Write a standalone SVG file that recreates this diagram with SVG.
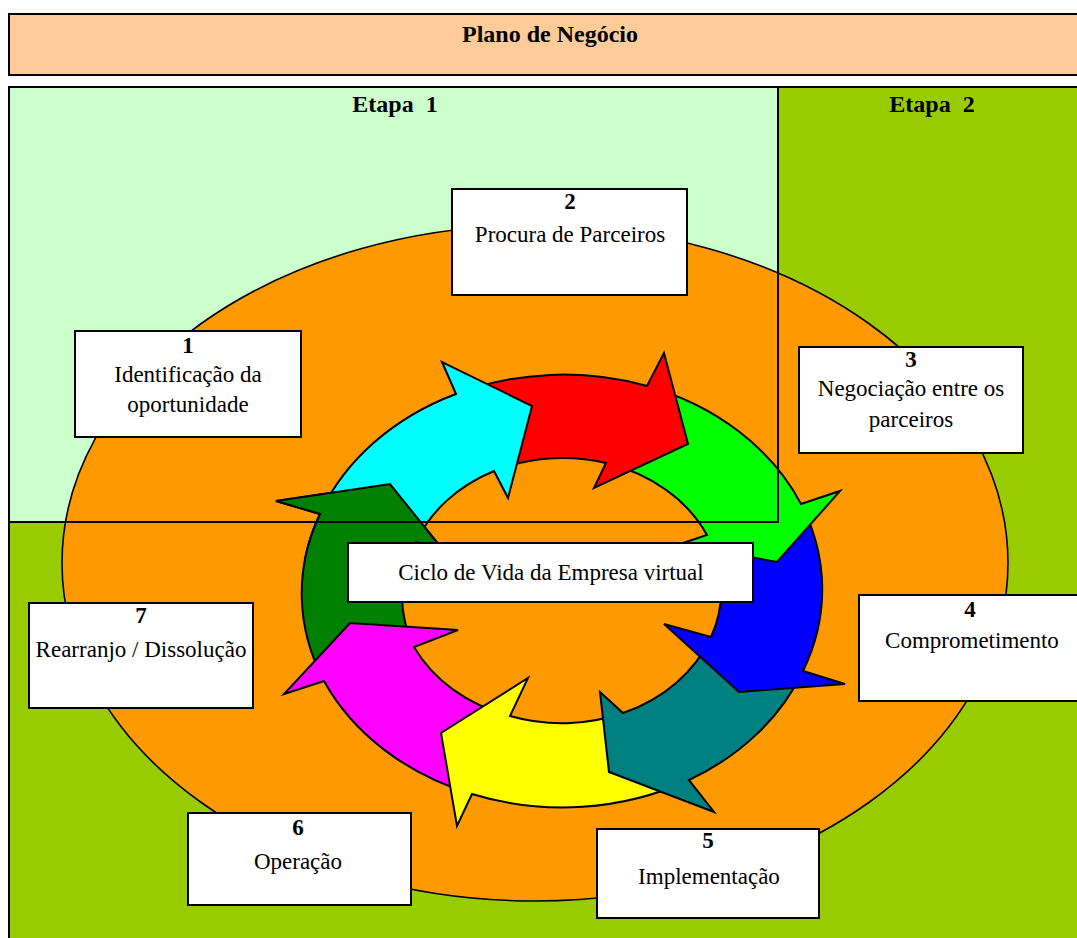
<svg xmlns="http://www.w3.org/2000/svg" xmlns:xlink="http://www.w3.org/1999/xlink" width="1077" height="938" viewBox="0 0 1077 938">
  <style>
    .frame { stroke: #000; stroke-width: 2; }
    .box { fill: #fff; stroke: #000; stroke-width: 2; }
    .arrow { stroke: #000; stroke-width: 2; stroke-linejoin: miter; }
    .t { font-family: "Liberation Serif", "Times New Roman", serif; font-size: 23px; fill: #000; text-anchor: middle; }
    .b { font-family: "Liberation Serif", "Times New Roman", serif; font-size: 23px; font-weight: bold; fill: #000; text-anchor: middle; }
    .h { font-family: "Liberation Serif", "Times New Roman", serif; font-size: 24px; font-weight: bold; fill: #000; text-anchor: middle; white-space: pre; }
  </style>
  <defs>
    <!-- dark green arrow, reused so its head can sit over the cyan tail -->
    <path id="a8" class="arrow" fill="#008000" d="M 324,681 A 260 216 0 0 1 320,514 L 276,501 L 390,484 L 443,550 L 416,542 A 159 133 0 0 0 414,647 Z"/>
    <clipPath id="c8">
      <rect x="255" y="455" width="215" height="105"/>
    </clipPath>
  </defs>

  <rect width="1077" height="938" fill="#fff"/>

  <!-- business plan header -->
  <g id="header">
    <rect class="frame" x="9" y="14" width="1080" height="61" fill="#FFCC99"/>
    <text class="h" x="550" y="42">Plano de Negócio</text>
  </g>

  <!-- stage areas -->
  <g id="stages">
    <rect class="frame" x="9" y="87" width="1080" height="870" fill="#99CC00"/>
    <rect x="9" y="87" width="769" height="435" fill="#CCFFCC"/>
  </g>

  <!-- life-cycle ellipse -->
  <ellipse id="cycle" cx="535" cy="563" rx="473" ry="338" fill="#FF9900" stroke="#000" stroke-width="1.6"/>

  <!-- ring of curved arrows, drawn so each head covers the following tail -->
  <g id="connectors">
    <use xlink:href="#a8"/>
    <path class="arrow" fill="#FF00FF" d="M 472,794 A 260 216 0 0 1 324,681 L 284,694 L 350,623 L 458,630 L 414,647 A 159 133 0 0 0 510,716 Z"/>
    <path class="arrow" fill="#FFFF00" d="M 689,780 A 260 216 0 0 1 472,794 L 457,826 L 441,733 L 528,678 L 510,716 A 159 133 0 0 0 623,713 Z"/>
    <path class="arrow" fill="#008080" d="M 803,671 A 260 216 0 0 1 689,780 L 714,812 L 609,772 L 600,692 L 623,713 A 159 133 0 0 0 711,637 Z"/>
    <path class="arrow" fill="#0000FF" d="M 801,504 A 260 216 0 0 1 803,671 L 845,684 L 739,692 L 664,624 L 711,637 A 159 133 0 0 0 707,535 Z"/>
    <path class="arrow" fill="#00FF00" d="M 647,386 A 260 216 0 0 1 801,504 L 840,491 L 777,562 L 680,544 L 707,535 A 159 133 0 0 0 606,463 Z"/>
    <path class="arrow" fill="#FF0000" d="M 456,394 A 260 216 0 0 1 647,386 L 664,353 L 688,444 L 594,488 L 606,463 A 159 133 0 0 0 494,471 Z"/>
    <path class="arrow" fill="#00FFFF" d="M 320,514 A 260 216 0 0 1 456,394 L 442,362 L 532,406 L 508,498 L 494,471 A 159 133 0 0 0 416,542 Z"/>
    <use xlink:href="#a8" clip-path="url(#c8)"/>
  </g>

  <!-- stage 1 outline and stage titles -->
  <g id="stage-labels">
    <rect x="9" y="87" width="769" height="435" fill="none" stroke="#000" stroke-width="2"/>
    <text class="h" x="395" y="112">Etapa  1</text>
    <text class="h" x="932" y="112">Etapa  2</text>
  </g>

  <g id="n1">
    <rect class="box" x="75" y="331" width="226" height="106"/>
    <text class="b" x="188" y="353">1</text>
    <text class="t" x="188" y="382">Identificação da</text>
    <text class="t" x="188" y="412">oportunidade</text>
  </g>
  <g id="n2">
    <rect class="box" x="452" y="189" width="235" height="106"/>
    <text class="b" x="570" y="209">2</text>
    <text class="t" x="570" y="242">Procura de Parceiros</text>
  </g>
  <g id="n3">
    <rect class="box" x="799" y="347" width="224" height="106"/>
    <text class="b" x="911" y="367">3</text>
    <text class="t" x="911" y="396">Negociação entre os</text>
    <text class="t" x="911" y="427">parceiros</text>
  </g>
  <g id="n4">
    <rect class="box" x="859" y="595" width="225" height="106"/>
    <text class="b" x="970" y="617">4</text>
    <text class="t" x="972" y="648">Comprometimento</text>
  </g>
  <g id="n5">
    <rect class="box" x="597" y="829" width="222" height="89"/>
    <text class="b" x="708" y="848">5</text>
    <text class="t" x="709" y="884">Implementação</text>
  </g>
  <g id="n6">
    <rect class="box" x="188" y="813" width="223" height="92"/>
    <text class="b" x="298" y="835">6</text>
    <text class="t" x="298" y="869">Operação</text>
  </g>
  <g id="n7">
    <rect class="box" x="29" y="603" width="224" height="105"/>
    <text class="b" x="141" y="623">7</text>
    <text class="t" x="141" y="657">Rearranjo / Dissolução</text>
  </g>
  <g id="center">
    <rect class="box" x="348" y="543" width="405" height="59"/>
    <text class="t" x="551" y="580">Ciclo de Vida da Empresa virtual</text>
  </g>
</svg>
